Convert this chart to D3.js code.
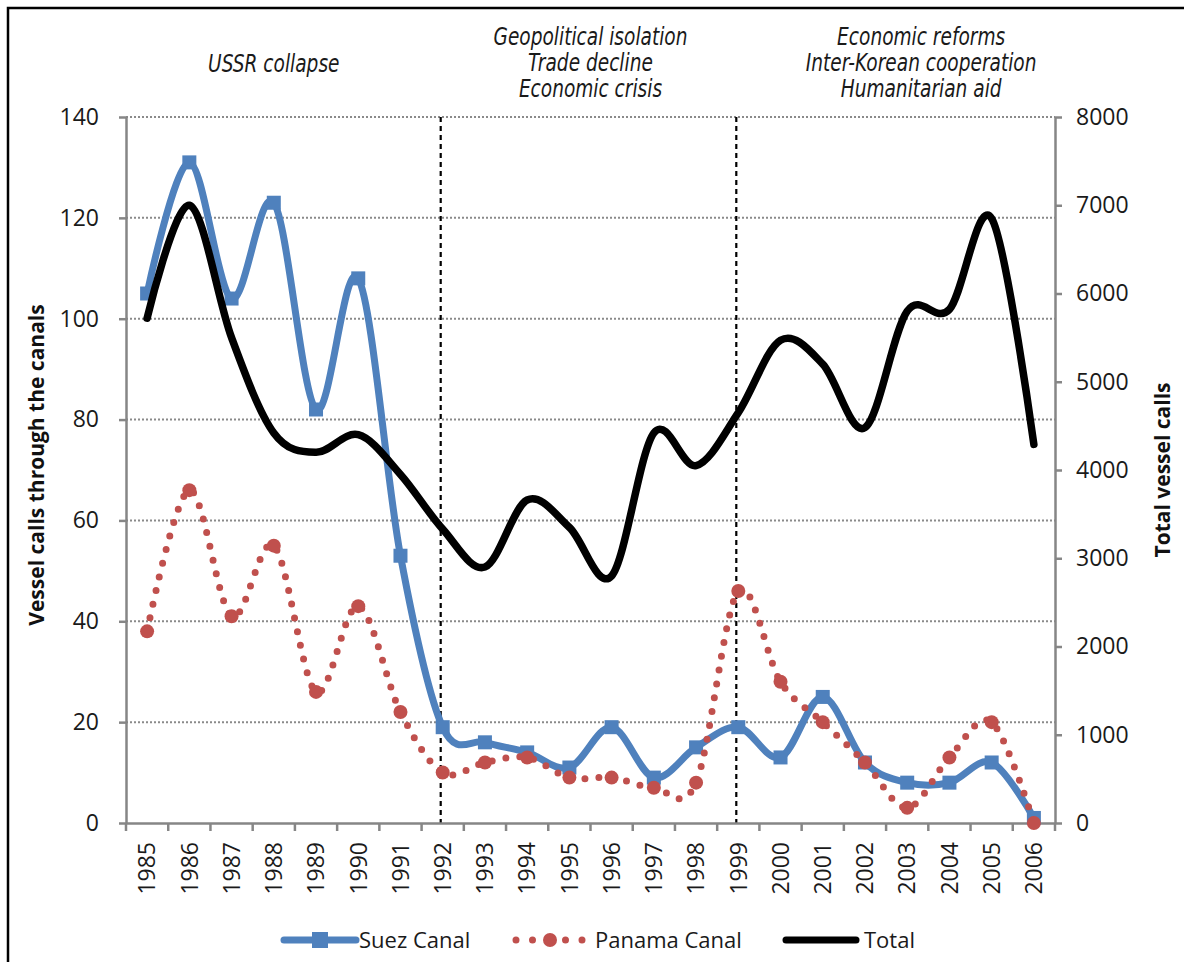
<!DOCTYPE html>
<html>
<head>
<meta charset="utf-8">
<script src="https://cdn.jsdelivr.net/npm/d3@7"></script>
<style>
  body { margin: 0; background: #fff; }
  svg { display: block; font-family: "Open Sans", sans-serif; }
  .note { font-family: "Liberation Sans Narrow", "DejaVu Sans Condensed", sans-serif; font-stretch: condensed; font-style: italic; }
</style>
</head>
<body>
<svg id="chart" width="1184" height="962"></svg>
<script>
const years = ["1985","1986","1987","1988","1989","1990","1991","1992","1993","1994","1995",
               "1996","1997","1998","1999","2000","2001","2002","2003","2004","2005","2006"];
const suez   = [105,131,104,123,82,108,53,19,16,14,11,19,9,15,19,13,25,12,8,8,12,1];
const panama = [38,66,41,55,26,43,22,10,12,13,9,9,7,8,46,28,20,12,3,13,20,0];
const total  = [5720,7000,5500,4420,4200,4400,3950,3330,2900,3660,3350,2800,4420,4050,4650,
                5470,5200,4480,5800,5820,6850,4290];
const leftTicks = [0,20,40,60,80,100,120,140];
const rightTicks = [0,1000,2000,3000,4000,5000,6000,7000,8000];
const periodYears = ["1992","1999"];
const notes = [
    {at: "1988", shift: 0, lines: ["USSR collapse"], top: 72},
    {at: "1995", shift: 0.5, lines: ["Geopolitical isolation","Trade decline","Economic crisis"], top: 45},
    {at: "2003", shift: 0.33, lines: ["Economic reforms","Inter-Korean cooperation","Humanitarian aid"], top: 45}
];

const svg = d3.select("#chart");
const mLeft = 126, mRight = 1055, mTop = 117, mBottom = 823;
const axisGrey = "#868686";
const blue = "#4f81bd", red = "#c0504d";

const x = d3.scaleBand().domain(years).range([mLeft, mRight]);
const cx = d => x(d) + x.bandwidth() / 2;
const yL = d3.scaleLinear().domain([0, 140]).range([mBottom, mTop]);
const yR = d3.scaleLinear().domain([0, 8000]).range([mBottom, mTop]);

// frame
svg.append("rect").attr("x", 8).attr("y", 8).attr("width", 1200).attr("height", 1000)
    .attr("fill", "#fff").attr("stroke", "#000").attr("stroke-width", 2.5);

// gridlines
svg.append("g").selectAll("line")
    .data(leftTicks.filter(d => d > 0))
    .join("line")
    .attr("x1", mLeft).attr("x2", mRight)
    .attr("y1", d => yL(d)).attr("y2", d => yL(d))
    .attr("stroke", "#8a8a8a").attr("stroke-width", 2).attr("stroke-dasharray", "2,2");

// period separators
svg.append("g").selectAll("line")
    .data(periodYears)
    .join("line")
    .attr("x1", d => cx(d) - 2).attr("x2", d => cx(d) - 2)
    .attr("y1", mTop).attr("y2", mBottom)
    .attr("stroke", "#000").attr("stroke-width", 2.2).attr("stroke-dasharray", "5,4");

// axes
const styleAxis = g => {
    g.select(".domain").attr("stroke", axisGrey).attr("stroke-width", 2.5);
    g.selectAll(".tick line").attr("stroke", axisGrey).attr("stroke-width", 2.5);
    g.selectAll("text").attr("font-size", 23).attr("fill", "#1a1a1a").attr("font-family", "Open Sans");
};
svg.append("g").attr("transform", `translate(${mLeft},0)`)
    .call(d3.axisLeft(yL).tickValues(leftTicks).tickSize(7).tickSizeOuter(0).tickPadding(20))
    .call(styleAxis);
svg.append("g").attr("transform", `translate(${mRight},0)`)
    .call(d3.axisRight(yR).tickValues(rightTicks).tickFormat(d3.format("d"))
        .tickSize(7).tickSizeOuter(0).tickPadding(14))
    .call(styleAxis);

const xAxis = svg.append("g").attr("transform", `translate(0,${mBottom})`)
    .call(d3.axisBottom(x).tickSize(0).tickSizeOuter(0).tickPadding(0))
    .call(styleAxis);
xAxis.selectAll(".tick text")
    .attr("transform", "rotate(-90)")
    .attr("text-anchor", "end")
    .attr("dx", "-19").attr("dy", "0.36em")
    .attr("y", 0).attr("x", 0);
// category boundary ticks
xAxis.append("g").selectAll("line")
    .data(years.concat(["end"]))
    .join("line")
    .attr("x1", (d, i) => mLeft + i * x.step()).attr("x2", (d, i) => mLeft + i * x.step())
    .attr("y1", 0).attr("y2", 8)
    .attr("stroke", axisGrey).attr("stroke-width", 2.5);

// axis titles
svg.append("text")
    .attr("transform", `translate(44,465) rotate(-90)`)
    .attr("text-anchor", "middle").attr("font-size", 21).attr("font-weight", "bold")
    .attr("fill", "#111").text("Vessel calls through the canals");
svg.append("text")
    .attr("transform", `translate(1170,470) rotate(-90)`)
    .attr("text-anchor", "middle").attr("font-size", 21).attr("font-weight", "bold")
    .attr("fill", "#111").text("Total vessel calls");

// period notes (squeezed horizontally to mimic a condensed face)
notes.forEach(n => {
    const nx = cx(n.at) + n.shift * x.step();
    const t = svg.append("text").attr("class", "note")
        .attr("transform", `translate(${nx},0) scale(0.86,1)`)
        .attr("x", 0).attr("y", n.top)
        .attr("text-anchor", "middle").attr("font-size", 24).attr("fill", "#1a1a1a");
    n.lines.forEach((l, i) => t.append("tspan").attr("x", 0).attr("dy", i ? 26 : 0).text(l));
});

const curve = d3.curveCardinal.tension(0);

// Suez Canal
const suezLine = d3.line().x((d, i) => cx(years[i])).y(d => yL(d)).curve(curve);
svg.append("path").datum(suez).attr("d", suezLine)
    .attr("fill", "none").attr("stroke", blue).attr("stroke-width", 7).attr("stroke-linejoin", "round");
svg.append("g").selectAll("rect").data(suez).join("rect")
    .attr("x", (d, i) => cx(years[i]) - 7).attr("y", d => yL(d) - 7)
    .attr("width", 14).attr("height", 14).attr("fill", blue);

// Panama Canal
const panLine = d3.line().x((d, i) => cx(years[i])).y(d => yL(d)).curve(curve);
svg.append("path").datum(panama).attr("d", panLine)
    .attr("fill", "none").attr("stroke", red).attr("stroke-width", 7)
    .attr("stroke-linecap", "round").attr("stroke-dasharray", "0,14");
svg.append("g").selectAll("circle").data(panama).join("circle")
    .attr("cx", (d, i) => cx(years[i])).attr("cy", d => yL(d)).attr("r", 7).attr("fill", red);

// Total
const totLine = d3.line().x((d, i) => cx(years[i])).y(d => yR(d)).curve(curve);
svg.append("path").datum(total).attr("d", totLine)
    .attr("fill", "none").attr("stroke", "#000").attr("stroke-width", 7.5)
    .attr("stroke-linejoin", "round").attr("stroke-linecap", "round");

// legend
const ly = 940;
const lg = svg.append("g").attr("font-size", 22).attr("fill", "#1a1a1a");
lg.append("line").attr("x1", 284).attr("x2", 356).attr("y1", ly).attr("y2", ly)
    .attr("stroke", blue).attr("stroke-width", 7).attr("stroke-linecap", "round");
lg.append("rect").attr("x", 312).attr("y", ly - 8).attr("width", 16).attr("height", 16).attr("fill", blue);
lg.append("text").attr("x", 359).attr("y", ly + 8).text("Suez Canal");

lg.append("line").attr("x1", 516).attr("x2", 584).attr("y1", ly).attr("y2", ly)
    .attr("stroke", red).attr("stroke-width", 7).attr("stroke-linecap", "round").attr("stroke-dasharray", "0,16.5");
lg.append("circle").attr("cx", 550).attr("cy", ly).attr("r", 7).attr("fill", red);
lg.append("text").attr("x", 595).attr("y", ly + 8).text("Panama Canal");

lg.append("line").attr("x1", 786).attr("x2", 856).attr("y1", ly).attr("y2", ly)
    .attr("stroke", "#000").attr("stroke-width", 7).attr("stroke-linecap", "round");
lg.append("text").attr("x", 864).attr("y", ly + 8).text("Total");
</script>
</body>
</html>
